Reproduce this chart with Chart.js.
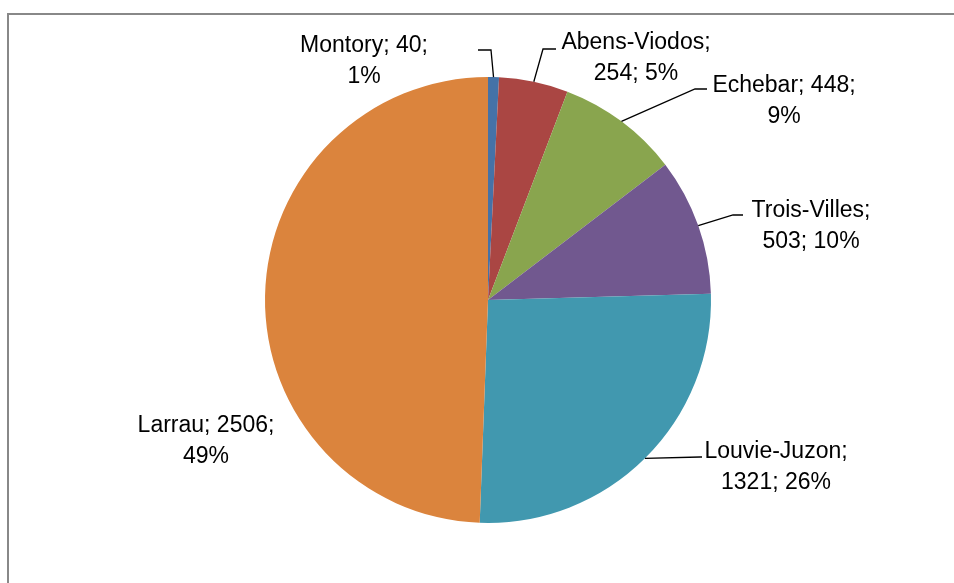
<!DOCTYPE html>
<html>
<head>
<meta charset="utf-8">
<script src="https://cdn.jsdelivr.net/npm/chart.js@4"></script>
<style>
  html, body { margin: 0; padding: 0; background: #fff; }
  #wrap { position: relative; width: 954px; height: 583px; overflow: hidden; }
  #frame { position: absolute; left: 7px; top: 13px; width: 1000px; height: 1000px;
           border-top: 2px solid #888; border-left: 2px solid #888; }
  #pie { position: absolute; left: 0; top: 0; }
</style>
</head>
<body>
<div id="wrap">
  <div id="frame"></div>
  <canvas id="pie" width="954" height="583"></canvas>
</div>
<script>
const communes = ["Montory", "Abens-Viodos", "Echebar", "Trois-Villes", "Louvie-Juzon", "Larrau"];
const counts = [40, 254, 448, 503, 1321, 2506];
const sliceColors = ["#4572A7", "#AA4643", "#89A54E", "#71588F", "#4198AF", "#DB843D"];

// label placement relative to pie centre: text anchor (first baseline), elbow of leader line, end of the horizontal stub
const labelLayout = [
  { dx: -124, dy: -248, elbow: [3, -250], end: -10 },
  { dx: 148, dy: -251, elbow: [55, -251], end: 68 },
  { dx: 296, dy: -208, elbow: [207, -211], end: 219 },
  { dx: 323, dy: -83, elbow: [245, -85], end: 255 },
  { dx: 288, dy: 158, elbow: [212, 157], end: 214 },
  { dx: -282, dy: 132, elbow: null, end: null }
];

const labelFont = "23px 'Liberation Sans', Arial, sans-serif";
const lineHeight = 31;

function wrapText(ctx, text, maxWidth) {
  const words = text.split(" ");
  const lines = [];
  let line = "";
  words.forEach(function (w) {
    const test = line ? line + " " + w : w;
    if (line && ctx.measureText(test).width > maxWidth) {
      lines.push(line);
      line = w;
    } else {
      line = test;
    }
  });
  if (line) lines.push(line);
  return lines;
}

const pieLabels = {
  id: "pieLabels",
  afterDatasetsDraw(chart) {
    const ctx = chart.ctx;
    const meta = chart.getDatasetMeta(0);
    const total = counts.reduce(function (a, b) { return a + b; }, 0);
    ctx.save();
    ctx.font = labelFont;
    ctx.fillStyle = "#000";
    ctx.strokeStyle = "#000";
    ctx.lineWidth = 1.3;
    meta.data.forEach(function (arc, i) {
      const p = arc.getProps(["x", "y", "startAngle", "endAngle", "outerRadius"], true);
      const lay = labelLayout[i];
      const mid = (p.startAngle + p.endAngle) / 2;
      if (lay.elbow) {
        ctx.beginPath();
        ctx.moveTo(p.x + Math.cos(mid) * p.outerRadius, p.y + Math.sin(mid) * p.outerRadius);
        ctx.lineTo(p.x + lay.elbow[0], p.y + lay.elbow[1]);
        ctx.lineTo(p.x + lay.end, p.y + lay.elbow[1]);
        ctx.stroke();
      }
      const pct = Math.round(counts[i] / total * 100);
      const text = communes[i] + "; " + counts[i] + "; " + pct + "%";
      const lines = wrapText(ctx, text, 150);
      ctx.textAlign = "center";
      ctx.textBaseline = "alphabetic";
      lines.forEach(function (ln, k) {
        ctx.fillText(ln, p.x + lay.dx, p.y + lay.dy + k * lineHeight);
      });
    });
    ctx.restore();
  }
};

new Chart(document.getElementById("pie"), {
  type: "pie",
  data: {
    labels: communes,
    datasets: [
      {
        data: counts,
        backgroundColor: sliceColors,
        borderWidth: 0,
        hoverOffset: 0
      }
    ]
  },
  options: {
    responsive: false,
    animation: false,
    layout: {
      padding: { top: 77, bottom: 60, left: 265, right: 243 }
    },
    plugins: {
      legend: { display: false },
      tooltip: { enabled: false }
    }
  },
  plugins: [pieLabels]
});
</script>
</body>
</html>
